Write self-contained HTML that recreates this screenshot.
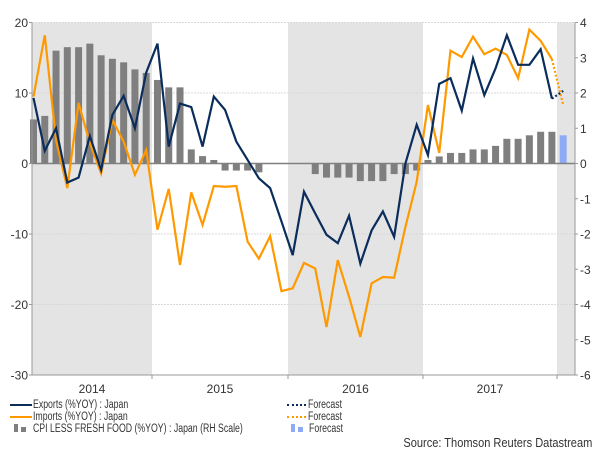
<!DOCTYPE html>
<html><head><meta charset="utf-8"><style>
body{margin:0;background:#fff;font-family:"Liberation Sans",sans-serif;}
svg text{font-family:"Liberation Sans",sans-serif;}
.lg{position:absolute;white-space:nowrap;font-size:11.5px;color:#333;line-height:12px;}
.t{display:inline-block;transform:scaleX(0.76);transform-origin:left center;}
</style></head><body>
<svg id="chart" width="600" height="450" xmlns="http://www.w3.org/2000/svg" style="position:absolute;left:0;top:0;"></svg>
<script>
const years = ["2014","2015","2016","2017"];
const leftTicks = [20,10,0,-10,-20,-30];
const rightTicks = [4,3,2,1,0,-1,-2,-3,-4,-5,-6];
const exportsVals = [9.3,1.8,5,-2.7,-2,3.9,-0.9,6.9,9.6,5,12.9,17,2.4,8.5,8,2.4,9.5,7.6,3.1,0.5,-2.1,-3.5,-8.2,-13,-4,-7.1,-10.1,-11.3,-7.4,-14.2,-9.5,-6.8,-10.4,0,5.5,1.2,11.3,12.1,7.5,14.9,9.7,13.5,18.2,14,14,16.2,9.2];
const exportsForecast = [10.3];
const importsVals = [9.5,18.2,3.3,-3.5,8.6,2.9,-1.4,6.2,3.1,-1.6,1.9,-9.4,-3.6,-14.4,-4.1,-8.7,-3.2,-3.3,-3.2,-11.1,-13.5,-10.3,-18.1,-17.7,-14.1,-14.9,-23.2,-13.7,-18.9,-24.6,-17,-16.1,-16.2,-9,-2.6,8.3,1.5,16,15.1,18,15.5,16.3,15.4,12.1,19,17.4,14.8];
const importsForecast = [8.3];
const cpiVals = [1.25,1.35,3.2,3.3,3.3,3.4,3.07,2.97,2.87,2.67,2.57,2.37,2.16,2.16,0.4,0.21,0.1,-0.2,-0.2,-0.2,-0.25,0,0,0,0,-0.3,-0.4,-0.4,-0.4,-0.5,-0.5,-0.5,-0.3,-0.3,-0.2,0.1,0.2,0.3,0.3,0.4,0.4,0.5,0.7,0.7,0.8,0.9,0.9];
const cpiForecast = [0.8];

const NS="http://www.w3.org/2000/svg";
const svg=document.getElementById('chart');
const L=32,R=575,T=22.5,B=375;
const yL=v=>T+(20-v)*(B-T)/50;
const yR=v=>T+(4-v)*(B-T)/10;
const x=i=>33.5+i*11.27;
const yearEdges=[32,152,288,423,557,575];
function mk(tag,attrs,parent){const e=document.createElementNS(NS,tag);for(const k in attrs)e.setAttribute(k,attrs[k]);(parent||svg).appendChild(e);return e;}

[0,2,4].forEach(k=>{
  const r=mk('rect',{x:yearEdges[k],y:T,width:yearEdges[k+1]-yearEdges[k],height:B-T,fill:'#e4e4e4'});
  
  
});
leftTicks.forEach(v=>{
  if(v===0||v===-30)return;
  const g=mk('line',{x1:L,x2:R,y1:yL(v),y2:yL(v),stroke:'#d8d8d8','stroke-width':1,'stroke-dasharray':'2,1'});
  
  
});
const bw=7;
cpiVals.forEach((v,i)=>{
  const b=mk('rect',{x:x(i)-bw/2,y:Math.min(yR(v),yR(0)),width:bw,height:Math.abs(yR(v)-yR(0)),fill:'#7f7f7f'});
  
  
});
cpiForecast.forEach((v,k)=>{
  const i=cpiVals.length+k;
  const b=mk('rect',{x:x(i)-bw/2,y:Math.min(yR(v),yR(0)),width:bw,height:Math.abs(yR(v)-yR(0)),fill:'#8eaaf5'});
  
  
});
const z=mk('line',{x1:L,x2:R,y1:yL(0),y2:yL(0),stroke:'#808080','stroke-width':1.5});


function line(vals,color,name){
  const p=mk('polyline',{points:vals.map((v,i)=>x(i)+','+yL(v)).join(' '),fill:'none',stroke:color,'stroke-width':2.2,'stroke-linejoin':'miter'});
  
  
}
function fc(vals,fvals,color,name){
  const n=vals.length-1;
  const pts=[x(n)+','+yL(vals[n])].concat(fvals.map((v,k)=>x(n+1+k)+','+yL(v)));
  const p=mk('polyline',{points:pts.join(' '),fill:'none',stroke:color,'stroke-width':2.2,'stroke-dasharray':'2,2'});
  
  
}
line(importsVals,'#ff9900','imports-line');
fc(importsVals,importsForecast,'#ff9900','imports-forecast-line');
line(exportsVals,'#0a2d5c','exports-line');
fc(exportsVals,exportsForecast,'#0a2d5c','exports-forecast-line');
const ax1=mk('line',{x1:L,x2:L,y1:T,y2:B,stroke:'#999','stroke-width':1});


const ax2=mk('line',{x1:R,x2:R,y1:T,y2:B,stroke:'#999','stroke-width':1});


const ax3=mk('line',{x1:L,x2:R,y1:B,y2:B,stroke:'#999','stroke-width':1});


leftTicks.forEach(v=>{
  mk('line',{x1:L-3,x2:L,y1:yL(v),y2:yL(v),stroke:'#999'});
  const t=mk('text',{x:L-4,y:yL(v)+4.5,'text-anchor':'end','font-size':12,fill:'#333'});
  t.textContent=v;
  
  
});
rightTicks.forEach(v=>{
  mk('line',{x1:R,x2:R+3,y1:yR(v),y2:yR(v),stroke:'#999'});
  const t=mk('text',{x:R+5,y:yR(v)+4.5,'text-anchor':'start','font-size':12,fill:'#333'});
  t.textContent=v;
  
  
});
years.forEach((yname,k)=>{
  mk('line',{x1:yearEdges[k+1],x2:yearEdges[k+1],y1:B,y2:B+4,stroke:'#999'});
  const t=mk('text',{x:(yearEdges[k]+yearEdges[k+1])/2,y:393,'text-anchor':'middle','font-size':12,fill:'#333'});
  t.textContent=yname;
  
  
});
</script>
<div>
  <div class="lg" style="left:10px;top:399px;"><span style="display:inline-block;width:22px;height:2px;background:#0a2d5c;vertical-align:middle;margin-right:1px;"></span><span class="t">Exports (%YOY) : Japan</span></div>
  <div class="lg" style="left:10px;top:411px;"><span style="display:inline-block;width:22px;height:2px;background:#ff9900;vertical-align:middle;margin-right:1px;"></span><span class="t">Imports (%YOY) : Japan</span></div>
  <div class="lg" style="left:14px;top:423px;"><span style="display:inline-block;width:4px;height:8px;background:#7f7f7f;margin-right:3px;"></span><span style="display:inline-block;width:5px;height:5px;background:#7f7f7f;margin-right:7px;"></span><span class="t">CPI LESS FRESH FOOD (%YOY) : Japan (RH Scale)</span></div>
  <div class="lg" style="left:287px;top:399px;"><span style="display:inline-block;width:19px;border-top:2px dotted #0a2d5c;vertical-align:middle;margin-right:2px;"></span><span class="t">Forecast</span></div>
  <div class="lg" style="left:287px;top:411px;"><span style="display:inline-block;width:19px;border-top:2px dotted #ff9900;vertical-align:middle;margin-right:2px;"></span><span class="t">Forecast</span></div>
  <div class="lg" style="left:291px;top:423px;"><span style="display:inline-block;width:4px;height:8px;background:#8eaaf5;margin-right:3px;"></span><span style="display:inline-block;width:5px;height:5px;background:#8eaaf5;margin-right:6px;"></span><span class="t">Forecast</span></div>
  <div class="lg" style="left:360px;top:437px;width:232px;text-align:right;font-size:13px;"><span class="t" style="transform:scaleX(0.85);transform-origin:right center;">Source: Thomson Reuters Datastream</span></div>
</div>
</body></html>
